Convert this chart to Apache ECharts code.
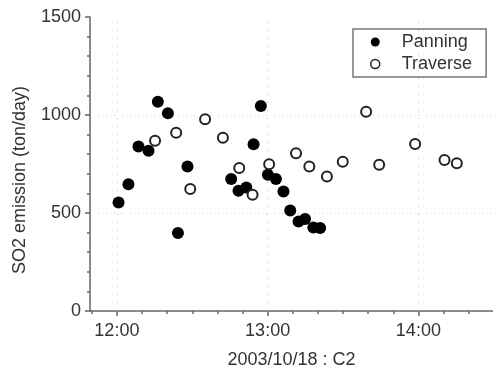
<!DOCTYPE html>
<html>
<head>
<meta charset="utf-8">
<script src="https://cdn.jsdelivr.net/npm/echarts@6/dist/echarts.min.js"></script>
<style>
  html, body {margin: 0; padding: 0; background: #fff;}
  #chart {width: 493px; height: 374px;}
</style>
</head>
<body>
<div id="chart"></div>
<script>
// times, values in ton/day
const panningTimes = ['12:00:40', '12:04:36', '12:08:36', '12:12:36', '12:16:18', '12:20:18', '12:24:18',
  '12:28:06', '12:45:30', '12:48:24', '12:51:30', '12:54:24', '12:57:18', '13:00:06', '13:03:18',
  '13:06:18', '13:09:00', '13:12:18', '13:14:54', '13:18:12', '13:20:54'];
const panningValues = [554, 647, 839, 818, 1068, 1009, 398, 737, 673, 613, 630, 851, 1046, 695, 674,
  610, 513, 457, 469, 426, 423];

const traverseTimes = ['12:15:12', '12:23:36', '12:29:12', '12:35:06', '12:42:12', '12:48:42', '12:54:00',
  '13:00:36', '13:11:18', '13:16:36', '13:23:36', '13:29:54', '13:39:12', '13:44:24', '13:58:42',
  '14:10:24', '14:15:18'];
const traverseValues = [869, 910, 623, 978, 884, 729, 593, 749, 805, 737, 686, 762, 1017, 746, 852,
  771, 754];

const hourTicks = ['12:00', '13:00', '14:00'];
const minorTicks = ['11:50', '12:00', '12:10', '12:20', '12:30', '12:40', '12:50', '13:00', '13:10',
  '13:20', '13:30', '13:40', '13:50', '14:00', '14:10', '14:20'];

function toMin(t) {
  const p = t.split(':').map(Number);
  return p[0] * 60 + p[1] + (p[2] || 0) / 60;
}
function fmt(m) {
  const h = Math.floor(m / 60), mm = Math.round(m % 60);
  return h + ':' + (mm < 10 ? '0' : '') + mm;
}

const font = 'Liberation Sans, Arial, sans-serif';
const textColor = '#333';
const axisColor = '#666';
const gridDots = {color: '#c4c4c4', width: 1, type: [1, 7]};
const xMin = 709.3, xMax = 869.7;

const chart = echarts.init(document.getElementById('chart'));
chart.setOption({
  animation: false,
  textStyle: {fontFamily: font},
  grid: {left: 90, right: 0, top: 17, bottom: 62},
  legend: {
    orient: 'vertical',
    left: 353,
    top: 29,
    padding: [4, 14, 4, 17],
    itemGap: 4,
    itemWidth: 9,
    itemHeight: 9,
    borderColor: '#777',
    borderWidth: 1.5,
    borderRadius: 0,
    textStyle: {fontSize: 18, color: textColor, fontFamily: font, lineHeight: 18, padding: [0, 0, 0, 17]},
    data: [
      {name: 'Panning', icon: 'circle'},
      {name: 'Traverse', icon: 'circle', itemStyle: {color: '#fff', borderColor: '#222', borderWidth: 1.5}}
    ]
  },
  xAxis: [{
    type: 'value',
    position: 'bottom',
    min: xMin,
    max: xMax,
    name: '2003/10/18 : C2',
    nameLocation: 'middle',
    nameGap: 40,
    nameTextStyle: {fontSize: 18, color: textColor},
    axisLine: {lineStyle: {color: axisColor, width: 1.5}},
    axisTick: {show: true, length: 3, customValues: minorTicks.map(toMin), lineStyle: {color: axisColor, width: 1.5}},
    axisLabel: {customValues: hourTicks.map(toMin), formatter: fmt, fontSize: 18, color: textColor, margin: 11},
    splitLine: {show: false}
  }, {
    type: 'value',
    position: 'bottom',
    min: xMin,
    max: xMax,
    axisLine: {show: false},
    axisTick: {show: true, length: 5, customValues: hourTicks.map(toMin), lineStyle: {color: axisColor, width: 1.5}},
    axisLabel: {show: false},
    splitLine: {show: false}
  }],
  yAxis: {
    type: 'value',
    min: 0,
    max: 1500,
    interval: 500,
    name: 'SO2 emission (ton/day)',
    nameLocation: 'middle',
    nameGap: 61,
    nameTextStyle: {fontSize: 18, color: textColor, padding: [0, 32, 0, 0]},
    axisLine: {show: true, lineStyle: {color: axisColor, width: 1.5}},
    axisTick: {show: true, length: 5, lineStyle: {color: axisColor, width: 1.5}},
    minorTick: {show: true, splitNumber: 5, length: 3, lineStyle: {color: axisColor, width: 1.5}},
    axisLabel: {fontSize: 18, color: textColor, margin: 9, formatter: v => String(v)},
    splitLine: {show: true, showMinLine: false, showMaxLine: false, lineStyle: gridDots}
  },
  series: [{
    name: 'Panning',
    type: 'scatter',
    symbol: 'circle',
    symbolSize: 12,
    z: 3,
    itemStyle: {color: '#000', opacity: 1},
    data: panningTimes.map((t, i) => [toMin(t), panningValues[i]]),
    markLine: {
      silent: true,
      symbol: 'none',
      label: {show: false},
      lineStyle: gridDots,
      z: 1,
      data: hourTicks.map(t => ({xAxis: toMin(t)}))
    }
  }, {
    name: 'Traverse',
    type: 'scatter',
    symbol: 'circle',
    symbolSize: 10,
    z: 3,
    itemStyle: {color: '#fff', borderColor: '#222', borderWidth: 2, opacity: 1},
    data: traverseTimes.map((t, i) => [toMin(t), traverseValues[i]])
  }]
});
</script>
</body>
</html>
